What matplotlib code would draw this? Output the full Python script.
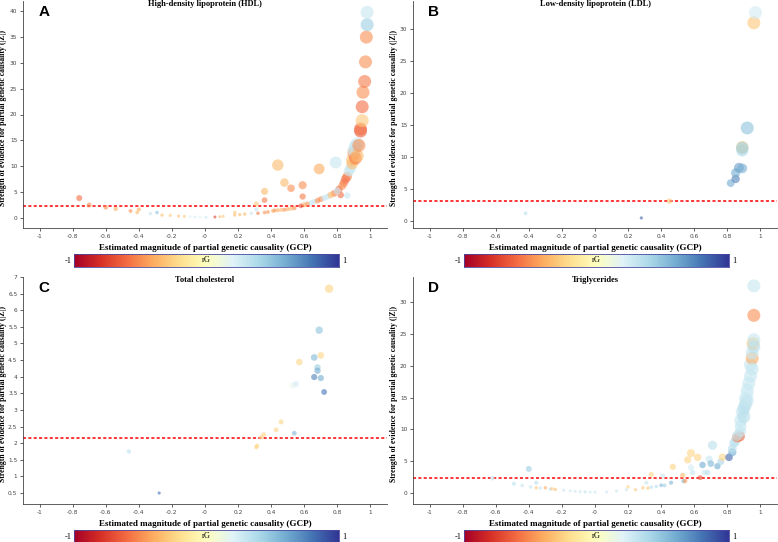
import numpy as np
import matplotlib.pyplot as plt

# ---- data (x = GCP, y = |Z|, colour = rG) ----
hdl_gcp = [-0.76, -0.70, -0.60, -0.54, -0.45, -0.41, -0.40, -0.33, -0.29, -0.26, -0.21, -0.16,
           -0.125, -0.09, -0.06, -0.03, 0.006, 0.06, 0.09, 0.11, 0.18, 0.18, 0.21, 0.24, 0.28,
           0.31, 0.31, 0.32, 0.36, 0.36, 0.36, 0.38, 0.41, 0.42, 0.44, 0.46, 0.48, 0.50, 0.52,
           0.54, 0.44, 0.48, 0.52, 0.59, 0.59, 0.69, 0.79, 0.86, 0.82, 0.58, 0.62, 0.66, 0.70,
           0.74, 0.78, 0.81, 0.84, 0.86, 0.88, 0.89, 0.90, 0.91, 0.92, 0.60, 0.64, 0.68, 0.72,
           0.76, 0.80, 0.83, 0.85, 0.87, 0.89, 0.90, 0.91, 0.92, 0.93, 0.94, 0.94, 0.95, 0.95,
           0.955, 0.965, 0.97, 0.975, 0.98, 0.98]
hdl_z = [3.8, 2.45, 2.0, 1.7, 1.3, 1.0, 1.6, 0.8, 1.0, 0.5, 0.45, 0.3,
         0.26, 0.2, 0.13, 0.1, 0.06, 0.13, 0.2, 0.26, 1.0, 0.5, 0.6, 0.7, 0.85,
         1.6, 2.65, 0.85, 1.0, 3.4, 5.1, 1.1, 1.3, 1.4, 1.45, 1.5, 1.55, 1.65, 1.75,
         1.85, 10.2, 6.8, 5.7, 6.3, 4.1, 9.45, 10.7, 4.3, 4.4, 2.3, 2.65, 3.1, 3.6,
         4.1, 4.7, 5.5, 6.8, 8.0, 9.6, 11.2, 12.5, 13.8, 14.3, 2.5, 2.9, 3.3, 3.8,
         4.4, 5.2, 6.2, 7.5, 9.0, 10.5, 13.0, 11.5, 12.0, 14.0, 16.8, 17.2, 18.8, 21.5,
         24.3, 26.4, 30.2, 35.0, 37.4, 39.8]
hdl_rg = [-0.6, -0.5, -0.5, -0.4, -0.5, -0.35, -0.4, 0.3, 0.5, -0.35, -0.3, -0.35,
          -0.3, 0.2, 0.25, 0.2, 0.3, -0.75, -0.35, -0.3, -0.3, -0.35, -0.35, -0.35, 0.3,
          0.3, -0.3, -0.55, -0.5, -0.55, -0.35, -0.5, -0.35, -0.5, -0.4, -0.35, -0.5, -0.4, -0.35,
          -0.5, -0.35, -0.35, -0.5, -0.5, -0.55, -0.4, 0.3, 0.3, -0.6, -0.7, -0.5, 0.3, -0.5,
          0.3, -0.55, -0.6, -0.55, -0.5, 0.3, -0.35, -0.5, 0.35, 0.3, -0.4, 0.3, -0.5, 0.3,
          -0.35, 0.3, -0.5, -0.6, 0.3, -0.35, 0.3, -0.55, -0.35, -0.5, -0.65, -0.6, -0.3, -0.6,
          -0.5, -0.55, -0.5, -0.5, 0.45, 0.3]

ldl_gcp = [-0.42, 0.28, 0.45, 0.82, 0.85, 0.85, 0.87, 0.89, 0.89, 0.89, 0.89, 0.92, 0.96, 0.97]
ldl_z = [1.2, 0.47, 3.1, 5.9, 6.55, 7.5, 8.3, 8.2, 11.0, 11.5, 11.4, 14.5, 30.9, 32.5]
ldl_rg = [0.35, 0.85, -0.3, 0.6, 0.75, 0.6, 0.65, 0.6, 0.4, -0.25, 0.45, 0.5, -0.3, 0.25]

tc_gcp = [-0.46, -0.277, 0.31, 0.315, 0.34, 0.356, 0.43, 0.46, 0.54, 0.53, 0.55, 0.57,
          0.66, 0.70, 0.68, 0.68, 0.66, 0.70, 0.72, 0.69, 0.75]
tc_z = [1.75, 0.5, 1.88, 1.92, 2.18, 2.26, 2.4, 2.64, 2.3, 3.74, 3.78, 4.44,
        4.58, 4.64, 4.28, 4.18, 3.99, 3.96, 3.54, 5.4, 6.65]
tc_rg = [0.35, 0.8, -0.25, -0.25, -0.25, -0.25, -0.25, -0.25, 0.55, 0.15, 0.25, -0.25,
         0.55, -0.25, 0.45, 0.6, 0.75, 0.6, 0.8, 0.5, -0.25]

tg_gcp = [-0.62, -0.40, -0.49, -0.44, -0.39, -0.355, -0.355, -0.33, -0.30, -0.27, -0.26, -0.24,
          -0.19, -0.15, -0.12, -0.09, -0.06, -0.03, 0.0, 0.07, 0.13, 0.19, 0.20, 0.245,
          0.29, 0.32, 0.31, 0.34, 0.34, 0.37, 0.40, 0.41, 0.42, 0.46, 0.47, 0.53,
          0.535, 0.545, 0.58, 0.56, 0.58, 0.59, 0.62, 0.636, 0.65, 0.66, 0.68, 0.69,
          0.70, 0.71, 0.74, 0.76, 0.77, 0.81, 0.83, 0.84, 0.85, 0.86, 0.87, 0.875, 0.88, 0.88,
          0.89, 0.90, 0.91, 0.91, 0.92, 0.92, 0.93, 0.94, 0.94, 0.95, 0.95, 0.955, 0.96, 0.96,
          0.96, 0.96, 0.83, 0.86, 0.88, 0.90, 0.92, 0.95]
tg_z = [2.33, 3.77, 1.43, 1.17, 0.95, 1.6, 0.8, 0.75, 0.8, 0.6, 0.65, 0.55,
        0.42, 0.3, 0.25, 0.2, 0.15, 0.12, 0.1, 0.16, 0.3, 0.5, 0.95, 0.5,
        0.8, 0.75, 1.6, 0.9, 2.9, 1.0, 1.2, 2.65, 1.17, 1.6, 4.1, 2.76,
        1.86, 1.86, 6.26, 5.2, 4.0, 3.2, 5.6, 2.4, 4.4, 3.2, 3.2, 5.3,
        4.6, 7.5, 4.2, 4.9, 5.6, 5.6, 6.4, 7.85, 8.2, 8.75, 9.2, 8.9, 9.7, 11.4,
        12.7, 13.3, 14.0, 14.85, 16.2, 15.5, 17.3, 18.4, 20.2, 21.2, 22.0, 23.5, 24.1, 23.0,
        27.96, 32.6, 7.0, 9.0, 10.5, 12.0, 14.5, 19.5]
tg_rg = [0.3, 0.45, 0.35, 0.3, 0.3, 0.35, -0.3, 0.3, -0.4, 0.35, -0.3, -0.35,
         0.3, 0.3, 0.3, 0.3, 0.35, 0.3, 0.3, 0.3, 0.3, 0.3, -0.25, -0.3,
         -0.3, -0.3, 0.3, 0.35, -0.25, 0.35, 0.55, 0.3, 0.45, 0.55, -0.25, -0.35,
         0.55, -0.45, -0.25, -0.25, 0.25, 0.3, -0.25, -0.7, 0.6, 0.3, 0.35, 0.3,
         0.55, 0.35, 0.6, 0.4, -0.25, 0.85, 0.6, 0.35, 0.35, -0.55, 0.3, -0.6, 0.3, 0.3,
         0.3, 0.35, 0.35, 0.3, 0.3, 0.25, 0.3, 0.3, 0.3, -0.4, 0.3, -0.3, 0.3, 0.35,
         -0.5, 0.3, 0.35, 0.3, 0.3, 0.35, 0.3, 0.3]

titles = ["High-density lipoprotein (HDL)", "Low-density lipoprotein (LDL)",
          "Total cholesterol", "Triglycerides"]
letters = ["A", "B", "C", "D"]
thresholds = [2.3, 3.1, 2.17, 2.33]

xlabel = "Estimated magnitude of partial genetic causality (GCP)"
ylabel = "Strength of evidence for partial genetic causality (|Z|)"

W, H = 778, 542
SERIF = "Liberation Serif"

fig = plt.figure(figsize=(W / 100, H / 100), dpi=100)


def add_px_axes(left, top, right, bottom):
    return fig.add_axes([left / W, 1 - bottom / H, (right - left) / W, (bottom - top) / H])


def ftext(x, y, s, **kw):
    fig.text(x / W, 1 - y / H, s, **kw)


def draw_panel(i, ox, oy, gcp, z, rg, ylim, yticks):
    ax = add_px_axes(ox + 23, oy + 1, ox + 387, oy + 228)
    gcp, z, rg = np.asarray(gcp), np.asarray(z), np.asarray(rg)
    d_px = np.clip(2.8 + 0.85 * z, 3, 13)
    ax.scatter(gcp, z, s=(d_px * 0.72) ** 2, c=rg, cmap="RdYlBu", vmin=-1, vmax=1,
               alpha=0.6, edgecolors="none", zorder=3)
    ax.axhline(thresholds[i], color="red", ls=(0, (2, 1.5)), lw=1.1, zorder=2)
    ax.set_xlim(-1.1, 1.1)
    ax.set_ylim(*ylim)
    xt = np.round(np.arange(-1, 1.01, 0.2), 1)
    ax.set_xticks(xt)
    ax.set_xticklabels(["%g" % v for v in xt])
    ax.set_yticks(yticks)
    ax.set_yticklabels(["%g" % v for v in yticks])
    ax.tick_params(labelsize=4.2, colors="#444444", length=2.5, width=0.6, pad=1.5)
    for side in ["top", "right"]:
        ax.spines[side].set_visible(False)
    for side in ["left", "bottom"]:
        ax.spines[side].set_linewidth(0.6)
        ax.spines[side].set_color("#444444")
    ax.patch.set_alpha(0)

    cx = ox + 205
    ftext(cx, oy + 4, titles[i], ha="center", va="center", fontsize=6,
          family=SERIF, weight="bold")
    ftext(ox + 44, oy + 12, letters[i], ha="center", va="center", fontsize=11,
          family="Liberation Sans", weight="bold")
    ftext(ox + 3.5, oy + 118, ylabel, ha="center", va="center", rotation=90,
          fontsize=5.6, family=SERIF, weight="bold")
    ftext(cx, oy + 248, xlabel, ha="center", va="center", fontsize=6.5,
          family=SERIF, weight="bold")

    # colour bar
    cb = add_px_axes(ox + 74, oy + 254, ox + 339, oy + 267)
    cb.imshow(np.linspace(-1, 1, 256)[None, :], cmap="RdYlBu", aspect="auto",
              extent=[-1, 1, 0, 1])
    cb.set_xticks([])
    cb.set_yticks([])
    for sp in cb.spines.values():
        sp.set_linewidth(0.6)
        sp.set_color("#4a4aa0")
    cb.text(0, 0.5, "rG", ha="center", va="center", fontsize=6, family=SERIF)
    ftext(ox + 72, oy + 261, "-1", ha="right", va="center", fontsize=6, family=SERIF)
    ftext(ox + 342, oy + 261, "1", ha="left", va="center", fontsize=6, family=SERIF)


draw_panel(0, 0, 0, hdl_gcp, hdl_z, hdl_rg, (-2, 42), np.arange(0, 41, 5))
draw_panel(1, 390, 0, ldl_gcp, ldl_z, ldl_rg, (-1.1, 34.3), np.arange(0, 31, 5))
draw_panel(2, 0, 276, tc_gcp, tc_z, tc_rg, (0.17, 7.0), np.arange(0.5, 7.01, 0.5))
draw_panel(3, 390, 276, tg_gcp, tg_z, tg_rg, (-1.75, 34.0), np.arange(0, 31, 5))

fig.savefig("out.png", dpi=100)
